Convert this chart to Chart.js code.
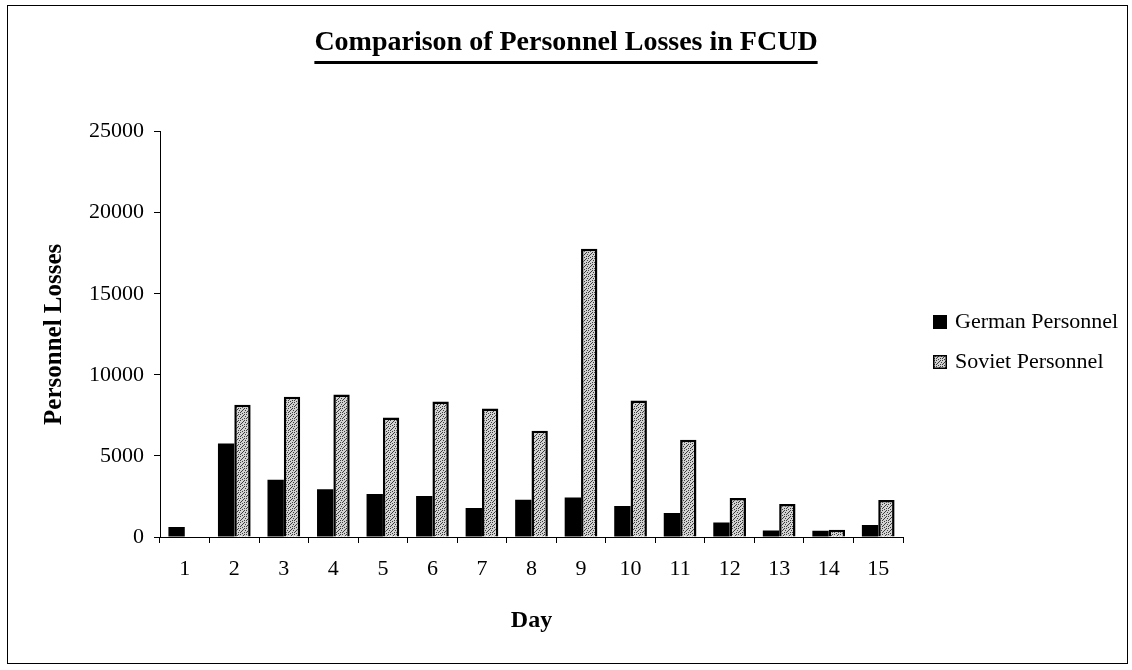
<!DOCTYPE html>
<html>
<head>
<meta charset="utf-8">
<title>Comparison of Personnel Losses in FCUD</title>
<script src="https://cdn.jsdelivr.net/npm/chart.js@4.4.0/dist/chart.umd.min.js"></script>
<style>
    html, body { margin: 0; padding: 0; background: #fff; }
    #wrap { position: relative; width: 1132px; height: 670px; }
</style>
</head>
<body>
<div id="wrap"><canvas id="chart" width="1132" height="670"></canvas></div>
<script>
// values
const days = ['1', '2', '3', '4', '5', '6', '7', '8', '9', '10', '11', '12', '13', '14', '15'];
const germanLosses = [620, 5770, 3530, 2940, 2650, 2530, 1790, 2290, 2430, 1910, 1480, 890, 400, 390, 740];
const sovietLosses = [0, 8150, 8650, 8780, 7370, 8350, 7920, 6550, 17780, 8420, 6000, 2400, 2040, 450, 2280];
const yTicks = [0, 5000, 10000, 15000, 20000, 25000];
const seriesNames = ['German Personnel', 'Soviet Personnel'];
const titleText = 'Comparison of Personnel Losses in FCUD';

const serif = '"Liberation Serif", "Times New Roman", serif';

// speckled grey fill like the printed stipple
function stipple() {
    var c = document.createElement('canvas');
    c.width = 6;
    c.height = 6;
    var g = c.getContext('2d');
    g.fillStyle = '#d2d2d2';
    g.fillRect(0, 0, 6, 6);
    var dots = [[0, 0], [3, 1], [5, 2], [1, 3], [4, 4], [2, 5], [0, 4], [4, 0], [2, 2]];
    g.fillStyle = '#3c3c3c';
    for (var i = 0; i < dots.length; i++) {
        g.fillRect(dots[i][0], dots[i][1], 1, 1);
    }
    return g.createPattern(c, 'repeat');
}
const sovietFill = stipple();

const framePlugin = {
    id: 'frame',
    beforeDraw(chart) {
        var ctx = chart.ctx;
        ctx.save();
        ctx.fillStyle = '#fff';
        ctx.fillRect(0, 0, chart.width, chart.height);
        ctx.strokeStyle = '#000';
        ctx.lineWidth = 1;
        ctx.strokeRect(7.5, 5.5, 1120, 658);
        ctx.restore();
    },
    afterDraw(chart) {
        var ctx = chart.ctx;
        ctx.save();
        // underline the title
        var tb = chart.titleBlock;
        ctx.font = 'bold 28px ' + serif;
        var w = ctx.measureText(titleText).width;
        var cx = (tb.left + tb.right) / 2;
        ctx.fillStyle = '#000';
        ctx.fillRect(cx - w / 2, 61, w, 3);

        // legend
        var ds = chart.data.datasets;
        ctx.font = '22px ' + serif;
        ctx.textBaseline = 'middle';
        ctx.textAlign = 'left';
        for (var i = 0; i < ds.length; i++) {
            var y = 322 + i * 40;
            ctx.fillStyle = ds[i].backgroundColor;
            ctx.fillRect(933, y - 7, 14, 14);
            if (ds[i].borderWidth) {
                ctx.strokeStyle = '#000';
                ctx.lineWidth = 1.5;
                ctx.strokeRect(933.75, y - 6.25, 12.5, 12.5);
            }
            ctx.fillStyle = '#000';
            ctx.fillText(ds[i].label, 955, y);
        }
        ctx.restore();
    }
};

const chart = new Chart(document.getElementById('chart'), {
    type: 'bar',
    data: {
        labels: days,
        datasets: [{
            label: seriesNames[0],
            data: germanLosses,
            backgroundColor: '#000',
            borderWidth: 0,
            categoryPercentage: 0.66,
            barPercentage: 1.0
        }, {
            label: seriesNames[1],
            data: sovietLosses,
            backgroundColor: sovietFill,
            borderColor: '#000',
            borderWidth: 2.5,
            categoryPercentage: 0.66,
            barPercentage: 1.0
        }]
    },
    options: {
        responsive: false,
        animation: false,
        devicePixelRatio: 1,
        layout: { padding: 0 },
        plugins: {
            legend: { display: false },
            tooltip: { enabled: false },
            title: {
                display: true,
                text: titleText,
                color: '#000',
                font: { family: serif, size: 28, weight: 'bold' },
                padding: { top: 26, bottom: 72 }
            }
        },
        scales: {
            x: {
                offset: true,
                grid: { display: true, offset: true, drawOnChartArea: false, drawTicks: true, tickLength: 6, color: '#000' },
                border: { display: true, color: '#000', width: 1 },
                ticks: { color: '#000', font: { family: serif, size: 22 }, padding: 13, maxRotation: 0 },
                title: {
                    display: true,
                    text: 'Day',
                    color: '#000',
                    font: { family: serif, size: 24, weight: 'bold' },
                    padding: { top: 0, bottom: 35 }
                },
                afterFit(s) { s.height = 133; }
            },
            y: {
                min: yTicks[0],
                max: yTicks[yTicks.length - 1],
                afterBuildTicks(s) { s.ticks = yTicks.map(v => ({ value: v })); },
                grid: { display: true, drawOnChartArea: false, drawTicks: true, tickLength: 6, color: '#000' },
                border: { display: true, color: '#000', width: 1 },
                ticks: { color: '#000', font: { family: serif, size: 22 }, padding: 10, callback: v => String(v) },
                title: {
                    display: true,
                    text: 'Personnel Losses',
                    color: '#000',
                    font: { family: serif, size: 25, weight: 'bold' },
                    padding: { top: 40, bottom: 0 }
                },
                afterFit(s) { s.width = 160; }
            },
            // empty box that keeps room for the legend on the right
            side: {
                type: 'linear',
                position: 'right',
                display: true,
                grid: { display: false },
                border: { display: false },
                ticks: { display: false },
                afterFit(s) { s.width = 229; }
            }
        }
    },
    plugins: [framePlugin]
});
</script>
</body>
</html>
